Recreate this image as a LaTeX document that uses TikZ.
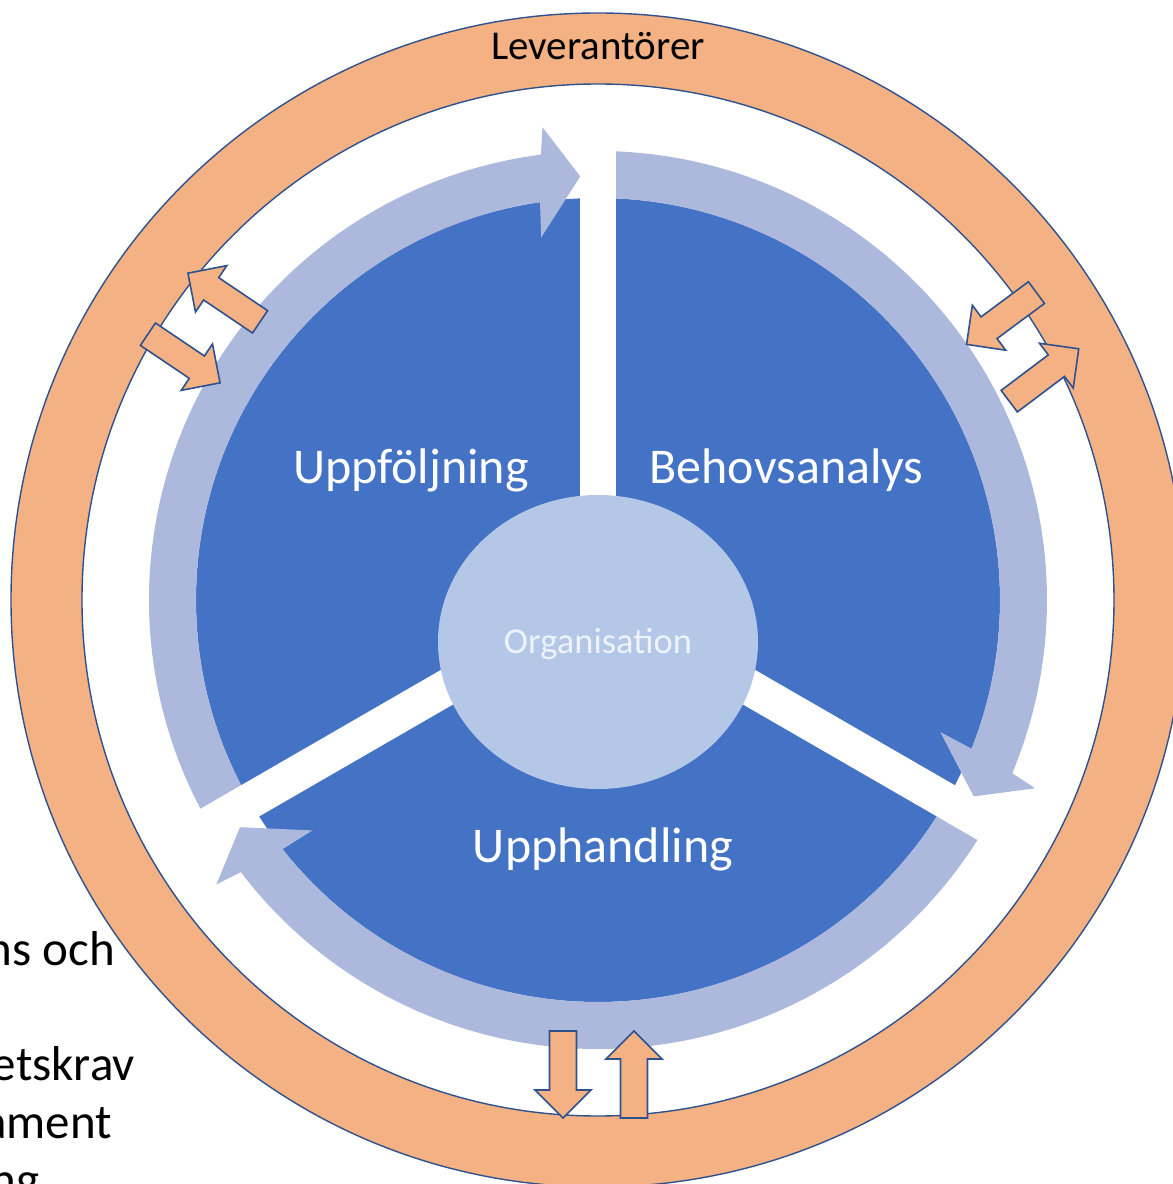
\documentclass[tikz,border=0pt]{standalone}
\usepackage{fontspec}
\setmainfont{Carlito}
\usetikzlibrary{shapes.geometric}

\definecolor{ringorange}{RGB}{244,177,131}
\definecolor{ringline}{RGB}{47,82,143}
\definecolor{pieblue}{RGB}{68,114,196}
\definecolor{arclight}{RGB}{173,185,220}
\definecolor{orgfill}{RGB}{180,199,231}
\definecolor{orgtext}{RGB}{238,243,250}

\tikzset{
  smallarrow/.style={fill=ringorange, draw=ringline, line width=1.6pt, line join=miter},
  gapline/.style={white, line width=36pt},
  phase/.style={white, anchor=base, inner sep=0, font=\fontsize{50}{60}\selectfont},
  fragment/.style={black, anchor=base east, inner sep=0, font=\fontsize{49}{58}\selectfont},
  pics/blockarrow/.style={code={
    \draw[smallarrow] (-43.5,-13.5) -- (15.5,-13.5) -- (15.5,-28) -- (43.5,0)
      -- (15.5,28) -- (15.5,13.5) -- (-43.5,13.5) -- cycle;
  }}
}

\begin{document}
\begin{tikzpicture}[x=1pt,y=1pt]
    \useasboundingbox (-598,-584) rectangle (575,600);
    \clip (-598,-584) rectangle (575,600);

    \draw[fill=ringorange, draw=ringline, line width=1.4pt, even odd rule] (0,0) circle (587) (0,0) circle (516);
    \fill[pieblue] (0,0) circle (402);

    \foreach \beg/\tp in {90/-27.6, -30/-147.6, 210/92.4} {
        \fill[arclight] (\beg:449) arc[start angle=\beg, end angle=\tp+4.9, radius=449]
            -- (\tp+4.3:476) -- (\tp:424) -- (\tp+6.5:367) -- (\tp+5.9:402)
            arc[start angle=\tp+5.9, end angle=\beg, radius=402] -- cycle;
    }
    \foreach \g in {90,210,330} \draw[gapline] (0,0) -- (\g:470);

    \node[ellipse, fill=orgfill, minimum width=320pt, minimum height=294pt, inner sep=0] (org) at (0,-42) {};
    \node[anchor=base, inner sep=0, text=orgtext, font=\fontsize{36.5}{44}\selectfont] (orglabel) at (0,-53) {Organisation};

    \pic[rotate=-90] at (-35,-474.5) {blockarrow};
    \pic[rotate=90] at (36,-474.5) {blockarrow};
    \pic[rotate=146] at (-374,302.5) {blockarrow};
    \pic[rotate=-34] at (-414,241.5) {blockarrow};
    \pic[rotate=216.5] at (403.5,281.5) {blockarrow};
    \pic[rotate=37] at (446,225) {blockarrow};

    \node[phase] (behov) at (188.5,117) {Behovsanalys};
    \node[phase] (uppfolj) at (-187,117) {Uppföljning};
    \node[phase] (upphandl) at (5,-262) {Upphandling};
    \node[anchor=base, inner sep=0, font=\fontsize{41}{49}\selectfont] (lev) at (0,540) {Leverantörer};

    \node[fragment] (frag1) at (-483,-365) {ns och};
    \node[fragment] (frag2) at (-463,-480) {etskrav};
    \node[fragment] (frag3) at (-486,-538) {ament};
    \node[fragment] (frag4) at (-558,-596) {ng};
\end{tikzpicture}
\end{document}
